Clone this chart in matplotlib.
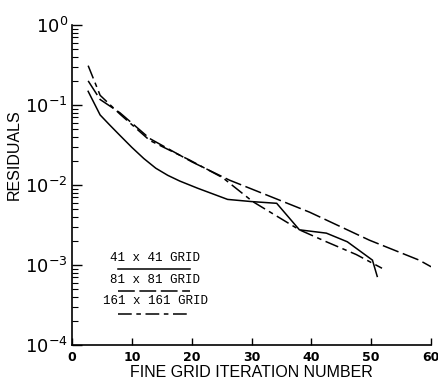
import matplotlib
matplotlib.use("Agg")
import matplotlib.pyplot as plt
import numpy as np
from matplotlib.ticker import LogLocator, NullFormatter, FixedLocator

# 41 x 41 grid (solid)
it_41 = [2.7, 4.7, 6.3, 8, 10, 12, 14, 16, 18, 21, 26, 30, 34.2, 38, 42.5, 46, 50.2, 51]
res_41 = [0.148, 0.0750, 0.0562, 0.0417, 0.0295, 0.0214, 0.0162, 0.0132, 0.0112,
          0.0091, 0.0066, 0.0062, 0.0059, 0.00275, 0.0025, 0.00195, 0.00115, 0.00072]

# 81 x 81 grid (long dash)
it_81 = [2.7, 4.7, 8, 13, 20, 26.3, 34.7, 39.7, 49.7, 58, 60]
res_81 = [0.20, 0.117, 0.080, 0.038, 0.0195, 0.0115, 0.00645, 0.00457, 0.00204,
          0.00115, 0.00095]

# 161 x 161 grid (dash-dot)
it_161 = [2.7, 4.7, 8, 13, 19.7, 25.2, 30.2, 38, 42.5, 47.5, 51.8]
res_161 = [0.31, 0.132, 0.077, 0.036, 0.0204, 0.0123, 0.0062, 0.00275, 0.00195,
           0.00135, 0.00091]

legend_labels = ["41 x 41 GRID", "81 x 81 GRID", "161 x 161 GRID"]
x_ticks = [0, 10, 20, 30, 40, 50, 60]

fig = plt.figure(figsize=(4.39, 3.84), dpi=100)
ax = fig.add_axes([0.164, 0.1016, 0.818, 0.8334])

lw = 1.1
ax.plot(it_41, res_41, color="black", lw=lw, solid_joinstyle="miter")
ax.plot(it_81, res_81, color="black", lw=lw, dashes=(11, 3))
ax.plot(it_161, res_161, color="black", lw=lw, dashes=(9, 3, 3, 3))

ax.set_yscale("log")
ax.set_ylim(1e-4, 1e0)
ax.set_xlim(0, 60)

ax.spines["top"].set_visible(False)
ax.spines["right"].set_visible(False)
ax.spines["left"].set_linewidth(1.2)
ax.spines["bottom"].set_linewidth(1.2)

ax.xaxis.set_major_locator(FixedLocator(x_ticks))
ax.set_xticklabels([str(t) for t in x_ticks], fontsize=9, fontweight="bold",
                   family="DejaVu Sans")
ax.tick_params(axis="x", direction="in", length=5, width=1, pad=4)

ax.yaxis.set_major_locator(LogLocator(base=10, numticks=10))
ax.yaxis.set_minor_locator(LogLocator(base=10, subs=np.arange(2, 10), numticks=20))
ax.yaxis.set_minor_formatter(NullFormatter())
ax.tick_params(axis="y", which="major", direction="in", length=7, width=1,
               labelsize=13, pad=3)
ax.tick_params(axis="y", which="minor", direction="in", length=4, width=0.8)

ax.set_ylabel("RESIDUALS", fontsize=11.5, family="Liberation Sans")
ax.yaxis.set_label_coords(-0.14, 0.594)
ax.set_xlabel("FINE GRID ITERATION NUMBER", fontsize=11.5, family="Liberation Sans",
              labelpad=1)

# legend drawn as text with sample lines
mono = "Liberation Mono"
text_y = [1.22e-3, 6.5e-4, 3.55e-4]
line_y = [8.9e-4, 4.7e-4, 2.44e-4]
styles = [dict(), dict(dashes=(11, 3)), dict(dashes=(9, 3, 3, 3))]
for lab, ty, ly, st in zip(legend_labels, text_y, line_y, styles):
    ax.text(13.9, ty, lab, ha="center", va="center", fontsize=9, family=mono)
    ax.plot([7.7, 19.7], [ly, ly], color="black", lw=lw, **st)

fig.savefig("out.png", dpi=100)
